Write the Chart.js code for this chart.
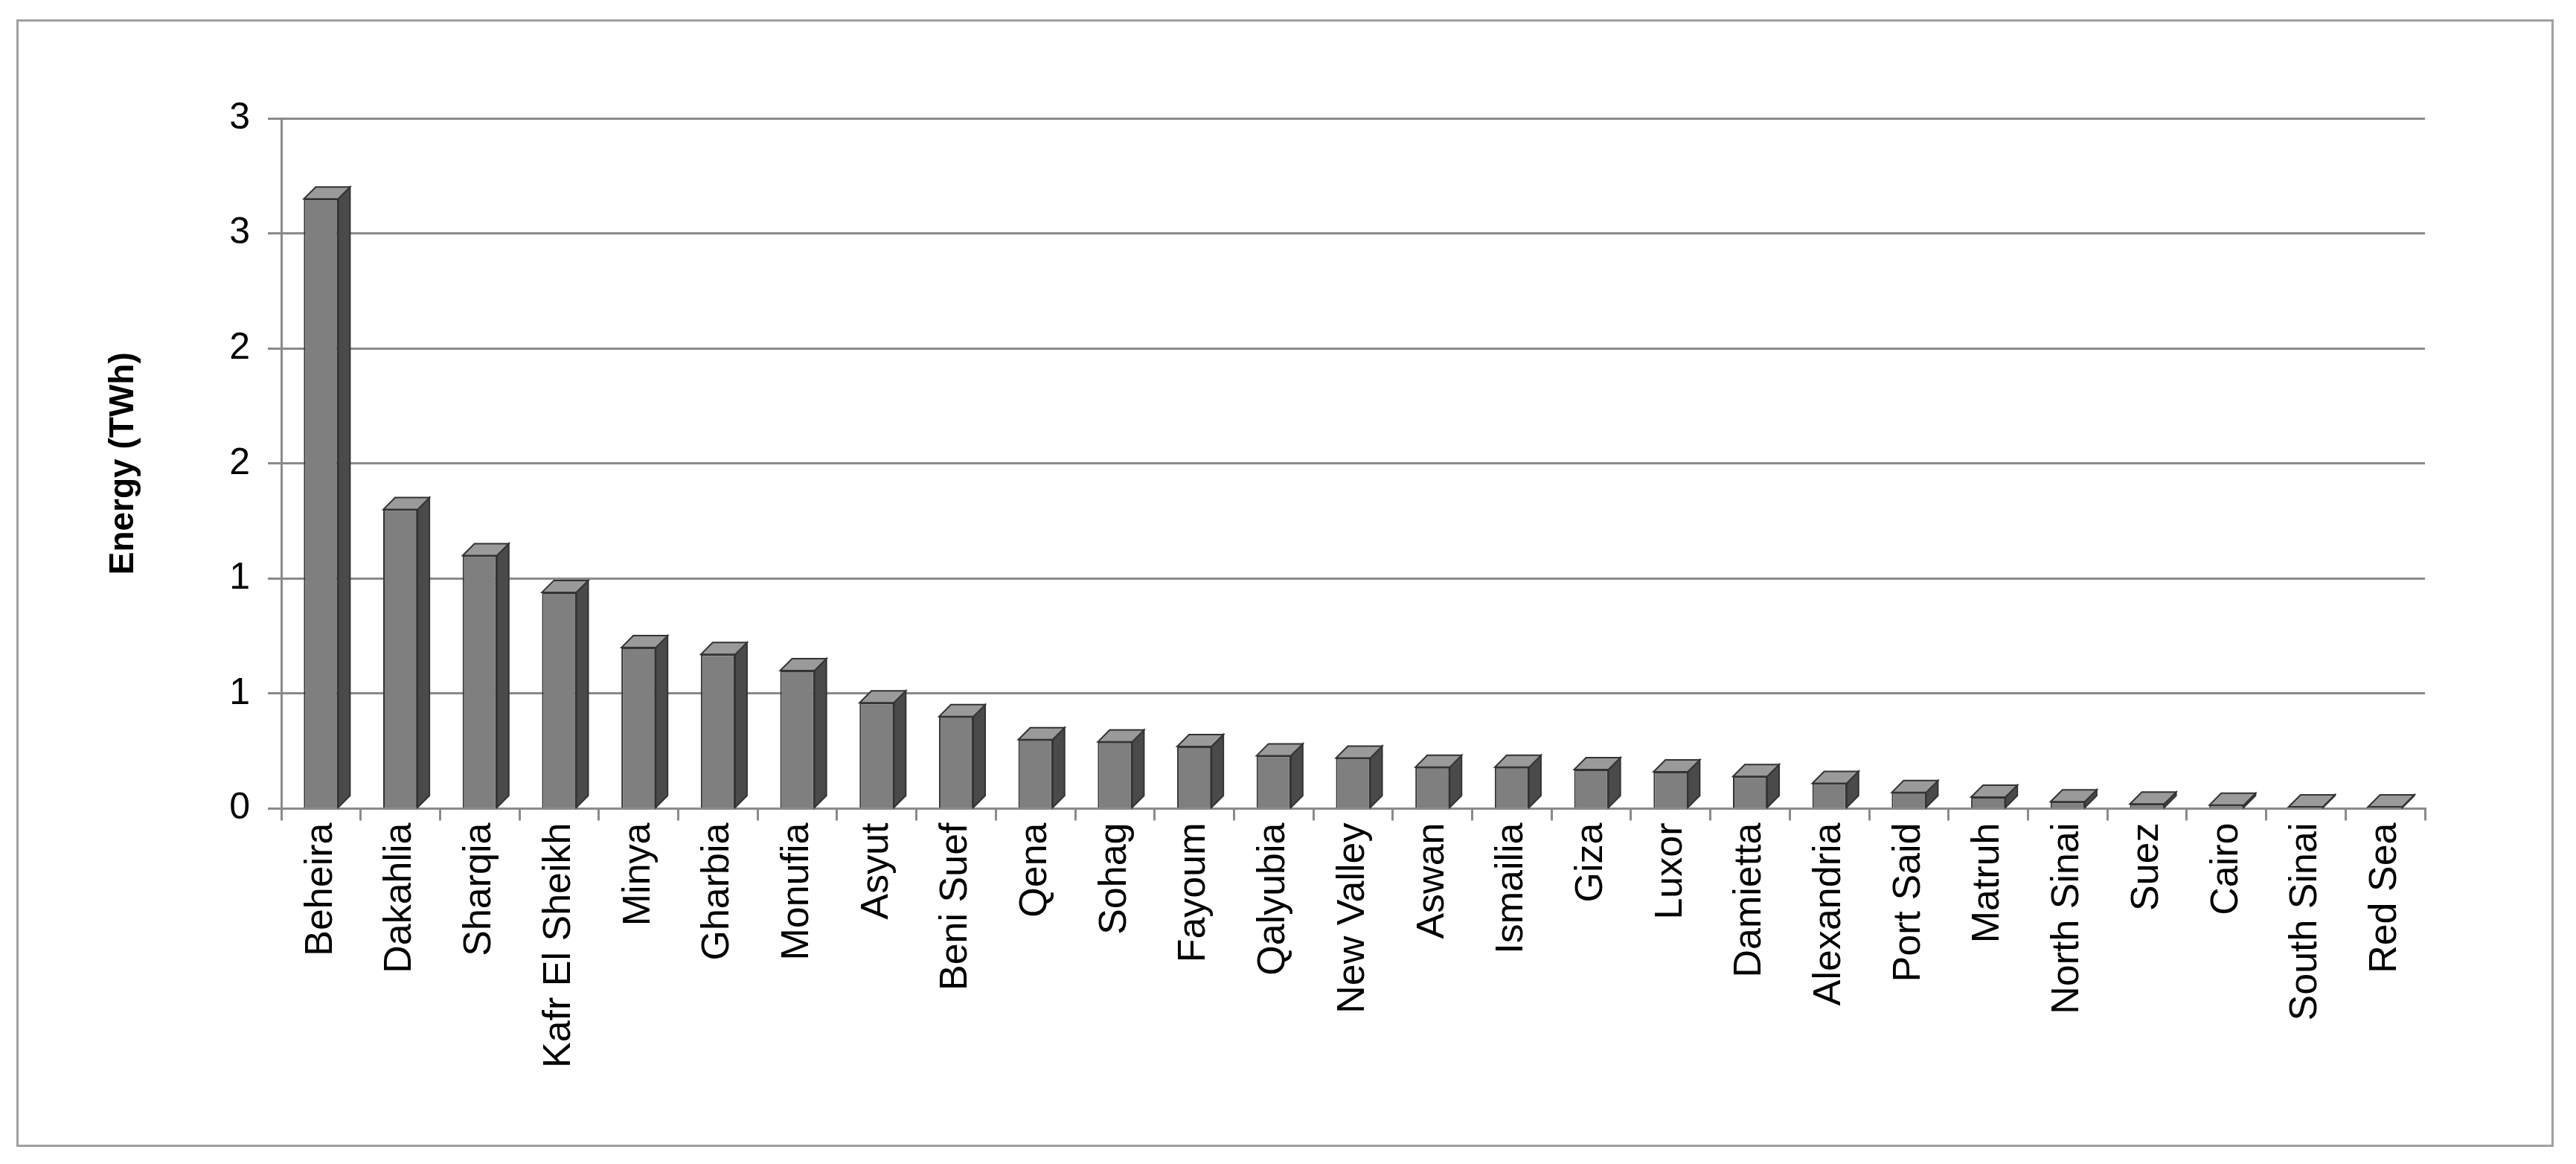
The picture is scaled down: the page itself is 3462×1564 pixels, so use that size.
<!DOCTYPE html>
<html><head><meta charset="utf-8">
<script src="https://cdn.jsdelivr.net/npm/chart.js@4/dist/chart.umd.min.js"></script>
<style>
html,body{margin:0;padding:0;background:#fff;}
#wrap{position:absolute;left:22px;top:26px;width:3410px;height:1515px;border:3px solid #a0a0a0;box-sizing:border-box;}
canvas{display:block;}
</style></head><body>
<div id="wrap"><canvas id="c"></canvas></div>
<script>
const categories = ["Beheira","Dakahlia","Sharqia","Kafr El Sheikh","Minya","Gharbia","Monufia","Asyut","Beni Suef","Qena","Sohag","Fayoum","Qalyubia","New Valley","Aswan","Ismailia","Giza","Luxor","Damietta","Alexandria","Port Said","Matruh","North Sinai","Suez","Cairo","South Sinai","Red Sea"];
const energyTWh = [2.65,1.30,1.10,0.94,0.70,0.67,0.60,0.46,0.40,0.30,0.29,0.27,0.23,0.22,0.18,0.18,0.17,0.16,0.14,0.11,0.07,0.05,0.03,0.02,0.015,0.008,0.008];
const yTickLabels = ["0","1","1","2","2","3","3"];

const side3d = {
  id:'side3d',
  afterDatasetsDraw(chart){
    const ctx = chart.ctx, meta = chart.getDatasetMeta(0), d = 16;
    meta.data.forEach(b=>{
      const w = b.width, l = b.x - w/2, r = b.x + w/2, t = b.y, bt = b.base;
      ctx.save();
      ctx.strokeStyle = '#333'; ctx.lineWidth = 2;
      ctx.fillStyle = '#4a4a4a';
      ctx.beginPath(); ctx.moveTo(r,t); ctx.lineTo(r+d,t-d); ctx.lineTo(r+d,bt-d); ctx.lineTo(r,bt); ctx.closePath(); ctx.fill(); ctx.stroke();
      ctx.fillStyle = '#9a9a9a';
      ctx.beginPath(); ctx.moveTo(l,t); ctx.lineTo(l+d,t-d); ctx.lineTo(r+d,t-d); ctx.lineTo(r,t); ctx.closePath(); ctx.fill(); ctx.stroke();
      ctx.restore();
    });
  }
};
const c = document.getElementById('c');
c.width = 3404; c.height = 1509;
new Chart(c, {
  type:'bar',
  data:{labels:categories, datasets:[{data:energyTWh, backgroundColor:'#7f7f7f', borderColor:'#333', borderWidth:2, categoryPercentage:0.9, barPercentage:0.48}]},
  options:{
    responsive:false, animation:false,
    layout:{padding:{left:110,right:170,top:130,bottom:100}},
    plugins:{legend:{display:false}, tooltip:{enabled:false}},
    scales:{
      y:{min:0,max:3,
        ticks:{stepSize:0.5, font:{family:'Liberation Sans', size:50}, color:'#000', padding:24,
          callback:(v,i)=>yTickLabels[i]},
        grid:{color:'#8a8a8a', lineWidth:3, tickLength:18},
        border:{color:'#8a8a8a', width:3},
        title:{display:true,text:'Energy (TWh)', font:{family:'Liberation Sans', size:46, weight:'bold'}, color:'#000', padding:{bottom:90}}
      },
      x:{
        ticks:{font:{family:'Liberation Sans', size:52}, color:'#000', maxRotation:90, minRotation:90, autoSkip:false},
        grid:{display:true, drawOnChartArea:false, color:'#8a8a8a', lineWidth:3, tickLength:16},
        border:{color:'#8a8a8a', width:3}
      }
    }
  },
  plugins:[side3d]
});
</script></body></html>
